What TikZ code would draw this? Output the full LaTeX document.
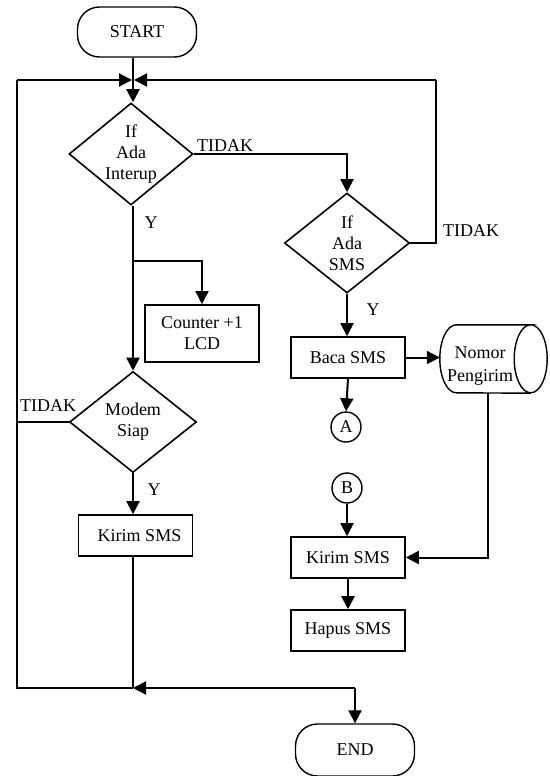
\documentclass[tikz,border=0pt]{standalone}
\usepackage{fontspec}
\setmainfont{Liberation Serif}
\usetikzlibrary{arrows.meta,positioning,calc,shapes.geometric}

\begin{document}
\begin{tikzpicture}[x=1pt,y=-1pt,
    every node/.style={font=\rmfamily\fontsize{18}{21}\selectfont},
    box/.style={draw,line width=1.6pt,minimum width=114pt,minimum height=41pt,inner sep=2pt,align=center},
    term/.style={draw,line width=1.4pt,rounded corners=22pt,minimum width=119pt,minimum height=50pt},
    dec/.style={draw,diamond,line width=1.6pt,inner sep=-4pt,align=center},
    conn/.style={draw,circle,line width=1.4pt,minimum size=30pt,inner sep=0pt},
    store/.style={minimum width=107pt,minimum height=68pt,inner sep=0pt},
    arr/.style={-{Triangle[length=13pt,width=13pt]},line width=2pt},
    line/.style={line width=1.6pt}
  ]
    \useasboundingbox (0,0) rectangle (549,776);
    % nodes
    \node[term] (start) at (137,32) {START};
    \node[dec,minimum width=124pt,minimum height=102pt] (ifint) at (131,154) {If\\Ada\\Interup};
    \node[dec,minimum width=125pt,minimum height=100pt] (ifsms) at (347,243) {If\\Ada\\SMS};
    \node[box,minimum height=57pt] (counter) at (202,333.5) {Counter +1\\LCD};
    \node[dec,minimum width=127pt,minimum height=101pt] (modem) at (133,422) {Modem\\Siap};
    \node[box] (kirima) at (135.5,535.5) {\hspace*{8pt}Kirim SMS};
    \node[box] (baca) at (348,357.5) {Baca SMS};
    \node[store] (nomor) at (493.5,359) {\raisebox{-11pt}[0pt][0pt]{\begin{tabular}{@{}c@{}}Nomor\\[2pt]Pengirim\end{tabular}}\hspace*{27pt}};
    \node[conn] (pa) at (346,427) {A};
    \node[conn] (pb) at (347,488) {B};
    \node[box] (kirimb) at (348,557.5) {Kirim SMS};
    \node[box] (hapus) at (348,630.5) {Hapus SMS};
    \node[term,minimum height=52pt] (end) at (355,750) {END};
    % cylinder outline of the store
    \draw[line,line width=1.4pt] ([xshift=-16.5pt]nomor.north east)
      arc[start angle=90,end angle=-270,x radius=16.5pt,y radius=34pt]
      -- ([xshift=16.5pt]nomor.north west)
      arc[start angle=90,end angle=270,x radius=16.5pt,y radius=34pt]
      -- ([xshift=-16.5pt]nomor.south east);
    % points on the loops
    \coordinate (jn) at (133,80);
    \coordinate (lt) at (17,80);
    \coordinate (lb) at (17,688);
    \coordinate (rt) at (436,80);
    \coordinate (br) at (133,261);
    \coordinate (bot) at (133,688);
    \coordinate (split) at (355,688);
    % labels
    \node[anchor=west,inner sep=0pt] (t1) at (197,146) {TIDAK};
    \node[anchor=west,inner sep=0pt] (t2) at (443,231) {TIDAK};
    \node[anchor=west,inner sep=0pt] (t3) at (20,406) {TIDAK};
    \node[inner sep=0pt] (y1) at (151,223) {Y};
    \node[inner sep=0pt] (y2) at (373,310) {Y};
    \node[inner sep=0pt] (y3) at (154,490) {Y};
    % connectors
    \draw[arr] (start.south -| jn) -- (ifint.north -| jn);
    \draw[arr] (lt) -- ([xshift=-1pt]jn);
    \draw[arr] (rt) -- ([xshift=1pt]jn);
    \draw[arr] (ifint.east) -| (ifsms.north);
    \draw[line] (ifsms.east) -| (rt);
    \draw[arr] (ifint.south -| jn) -- (modem.north -| jn);
    \draw[arr,line width=1.6pt] (br) -| (counter.north);
    \draw[line] (modem.west) -- (modem.west -| lt);
    \draw[line] (bot) -- (lb) -- (lt);
    \draw[arr] (modem.south -| jn) -- (kirima.north -| jn);
    \draw[line,line width=1.2pt] (kirima.south -| jn) -- (bot);
    \draw[arr] (split) -- (bot);
    \draw[arr] (split) -- (end.north -| split);
    \draw[arr] (ifsms.south) -- (baca.north -| ifsms.south);
    \draw[arr] (baca.east) -- (baca.east -| nomor.west);
    \draw[arr] (baca.south) -- (pa.north);
    \draw[arr] (pb.south) -- (kirimb.north -| pb.south);
    \draw[arr] ([xshift=-5.5pt]nomor.south) |- (kirimb.east);
    \draw[arr] (kirimb.south) -- (hapus.north);
\end{tikzpicture}
\end{document}
